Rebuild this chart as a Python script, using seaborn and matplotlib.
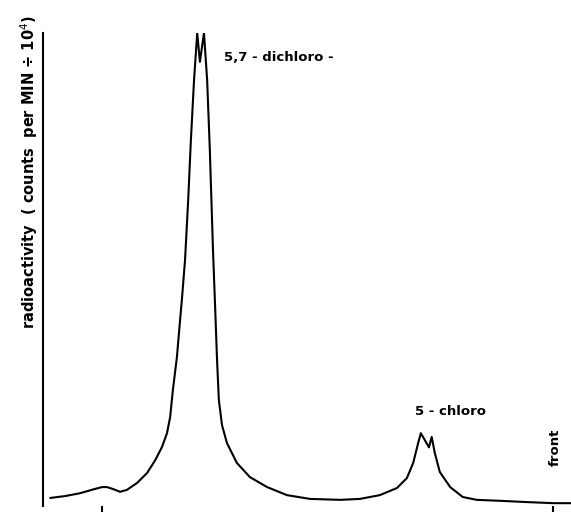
import matplotlib
matplotlib.use("Agg")
import matplotlib.pyplot as plt
import seaborn as sns
import pandas as pd

sns.set_theme(style="white")
plt.rcParams['font.family'] = ['DejaVu Sans']

# Rf position (origin = 0, solvent front = 1)
rf = [-0.115, -0.082, -0.049, -0.016, 0.000, 0.011, 0.024, 0.040, 0.055, 0.078,
      0.100, 0.118, 0.133, 0.144, 0.151, 0.157, 0.166, 0.173, 0.177, 0.184,
      0.191, 0.197, 0.204, 0.211, 0.217, 0.226, 0.233, 0.239, 0.246, 0.251,
      0.255, 0.259, 0.266, 0.277, 0.299, 0.328, 0.366, 0.410, 0.461, 0.528,
      0.572, 0.616, 0.654, 0.676, 0.690, 0.701, 0.707, 0.725, 0.731, 0.738,
      0.749, 0.772, 0.800, 0.831, 0.882, 0.949, 1.000, 1.040]
# radioactivity (counts per min / 10^4), arbitrary scale
activity = [0.17, 0.21, 0.27, 0.36, 0.40, 0.40, 0.36, 0.30, 0.34, 0.49,
            0.70, 0.97, 1.25, 1.54, 1.88, 2.45, 3.15, 3.93, 4.36, 5.20,
            6.47, 7.74, 9.01, 10.0, 9.39, 10.0, 9.01, 7.53, 5.41, 4.14,
            3.09, 2.24, 1.71, 1.33, 0.91, 0.61, 0.40, 0.23, 0.15, 0.13,
            0.15, 0.23, 0.38, 0.59, 0.91, 1.33, 1.54, 1.24, 1.46, 1.12,
            0.72, 0.40, 0.19, 0.13, 0.11, 0.08, 0.06, 0.06]

tick_pos = [0.0, 1.0]
peak_labels = ["5,7 - dichloro -", "5 - chloro"]
peak_label_x = [0.271, 0.694]
peak_label_y = [9.49, 1.99]
front_label = "front"
ylabel = "radioactivity  ( counts  per MIN \u00f7 10$^4$)"

df = pd.DataFrame({"rf": rf, "activity": activity})

fig = plt.figure(figsize=(5.71, 5.12), dpi=100)
ax = fig.add_axes([43 / 571, 6 / 512, 1 - 43 / 571, (506 - 33) / 512])
sns.lineplot(data=df, x="rf", y="activity", ax=ax, color="black", lw=1.5,
             sort=False, estimator=None)
ax.set_xlim(-0.131, 1.040)
ax.set_ylim(0, 10)

for s in ["top", "right", "bottom"]:
    ax.spines[s].set_visible(False)
ax.spines["left"].set_color("black")
ax.spines["left"].set_linewidth(1.5)

ax.set_xticks(tick_pos)
ax.set_xticklabels([])
ax.set_yticks([])
ax.tick_params(axis="x", direction="out", length=6, width=1.5, color="black",
               bottom=True, pad=0)
ax.set_xlabel("")
ax.set_ylabel("")

for t, x, y in zip(peak_labels, peak_label_x, peak_label_y):
    ax.text(x, y, t, ha="left", va="center", fontsize=9.5, fontweight="bold",
            color="black")
ax.text(1.004, 1.25, front_label, rotation=90, ha="center", va="center",
        fontsize=9.5, fontweight="bold", color="black")

fig.text(29 / 571, 1 - 172 / 512, ylabel, rotation=90, ha="center",
         va="center", fontsize=10.5, fontweight="bold", color="black")

fig.savefig("out.png", dpi=100)
